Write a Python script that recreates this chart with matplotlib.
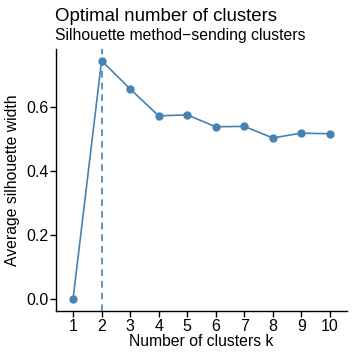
import matplotlib.pyplot as plt
import numpy as np

plt.rcParams['font.family'] = ['Liberation Sans', 'DejaVu Sans']

k = [1, 2, 3, 4, 5, 6, 7, 8, 9, 10]
sil = [0.0, 0.744, 0.656, 0.572, 0.575, 0.538, 0.539, 0.503, 0.518, 0.516]
best_k = 2
col = '#4682B4'

fig = plt.figure(figsize=(3.54, 3.54), dpi=100)
ax = fig.add_axes([0.158, 0.1215, 0.822, 0.7405])

ax.axvline(best_k, color=col, linestyle=(0, (4, 3)), linewidth=1.2)
ax.plot(k, sil, color=col, linewidth=1.2, marker='o', markersize=5)

ax.set_xlim(0.4, 10.6)
ax.set_ylim(-0.037, 0.781)
ax.set_xticks(k)
ax.set_yticks([0.0, 0.2, 0.4, 0.6])
ax.set_yticklabels(['0.0', '0.2', '0.4', '0.6'])
ax.spines['top'].set_visible(False)
ax.spines['right'].set_visible(False)
ax.spines['left'].set_linewidth(1.0)
ax.spines['bottom'].set_linewidth(1.0)
ax.tick_params(direction='out', length=4, width=1, labelsize=11.5, colors='black', pad=1.5)
ax.set_xlabel('Number of clusters k', fontsize=11.3, labelpad=0)
ax.set_ylabel('Average silhouette width', fontsize=11.3, labelpad=4)

fig.text(0.155, 0.94, 'Optimal number of clusters', fontsize=13.4, va='baseline')
fig.text(0.155, 0.887, 'Silhouette method\u2212sending clusters', fontsize=11.3, va='baseline')

plt.savefig('out.png', dpi=100)
